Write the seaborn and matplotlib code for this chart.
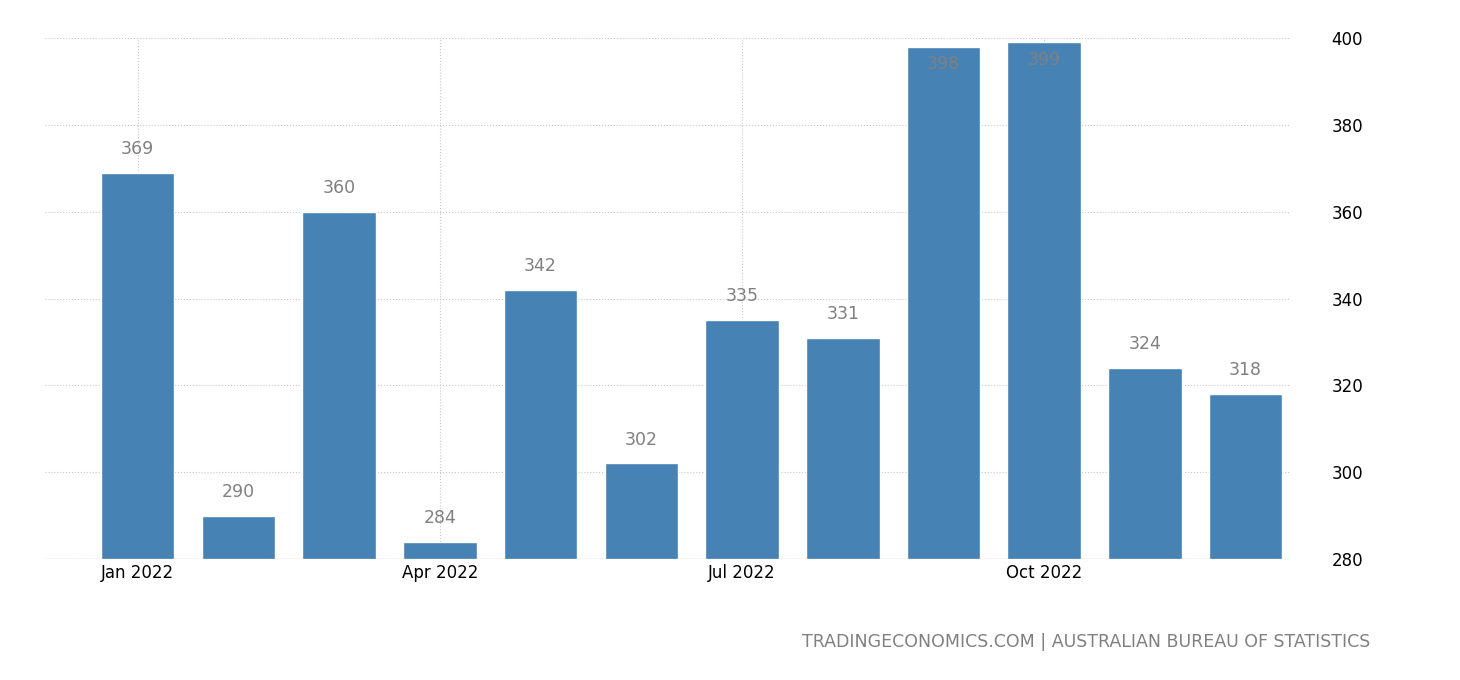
import matplotlib
matplotlib.use("Agg")
import matplotlib.pyplot as plt
import seaborn as sns
import pandas as pd

months = ["Jan 2022","Feb 2022","Mar 2022","Apr 2022","May 2022","Jun 2022",
          "Jul 2022","Aug 2022","Sep 2022","Oct 2022","Nov 2022","Dec 2022"]
values = [369, 290, 360, 284, 342, 302, 335, 331, 398, 399, 324, 318]
tick_labels = ["Jan 2022", "Apr 2022", "Jul 2022", "Oct 2022"]

sns.set_theme(style="white")
plt.rcParams['font.family'] = ['DejaVu Sans']
df = pd.DataFrame({"month": months, "value": values})

fig = plt.figure(figsize=(14.6, 6.8), dpi=100)
ax = fig.add_axes([45/1460, 1-559/680, (1290-45)/1460, (559-38)/680])
sns.barplot(data=df, x="month", y="value", color="#4682b4", saturation=1,
            width=0.73, ax=ax, zorder=3)
ax.set_ylim(280, 400)
ax.set_xlim(-0.92, 11.44)
ax.set_yticks(range(280, 401, 20))
ax.set_xticks([0, 3, 6, 9])
ax.set_xticklabels(tick_labels)
ax.yaxis.tick_right()
ax.tick_params(axis="both", labelsize=12, length=0, colors="black")
ax.tick_params(axis="y", pad=30)
ax.set_xlabel(""); ax.set_ylabel("")
ax.grid(True, linestyle=":", color="#c8c8c8", linewidth=0.8, zorder=0)
for s in ax.spines.values():
    s.set_visible(False)
ax.axhline(280, color="#d0d0d0", linewidth=1, zorder=4)
for i, v in enumerate(values):
    y = v + 5.5 if v + 5.5 < 397 else v - 4
    ax.text(i, y, str(v), ha="center", va="center", fontsize=12.5, color="#808080", zorder=5)
fig.text(1370/1460, 1-642/680, "TRADINGECONOMICS.COM | AUSTRALIAN BUREAU OF STATISTICS",
         ha="right", va="center", fontsize=12.5, color="#808080")
fig.savefig("out.png", dpi=100)
